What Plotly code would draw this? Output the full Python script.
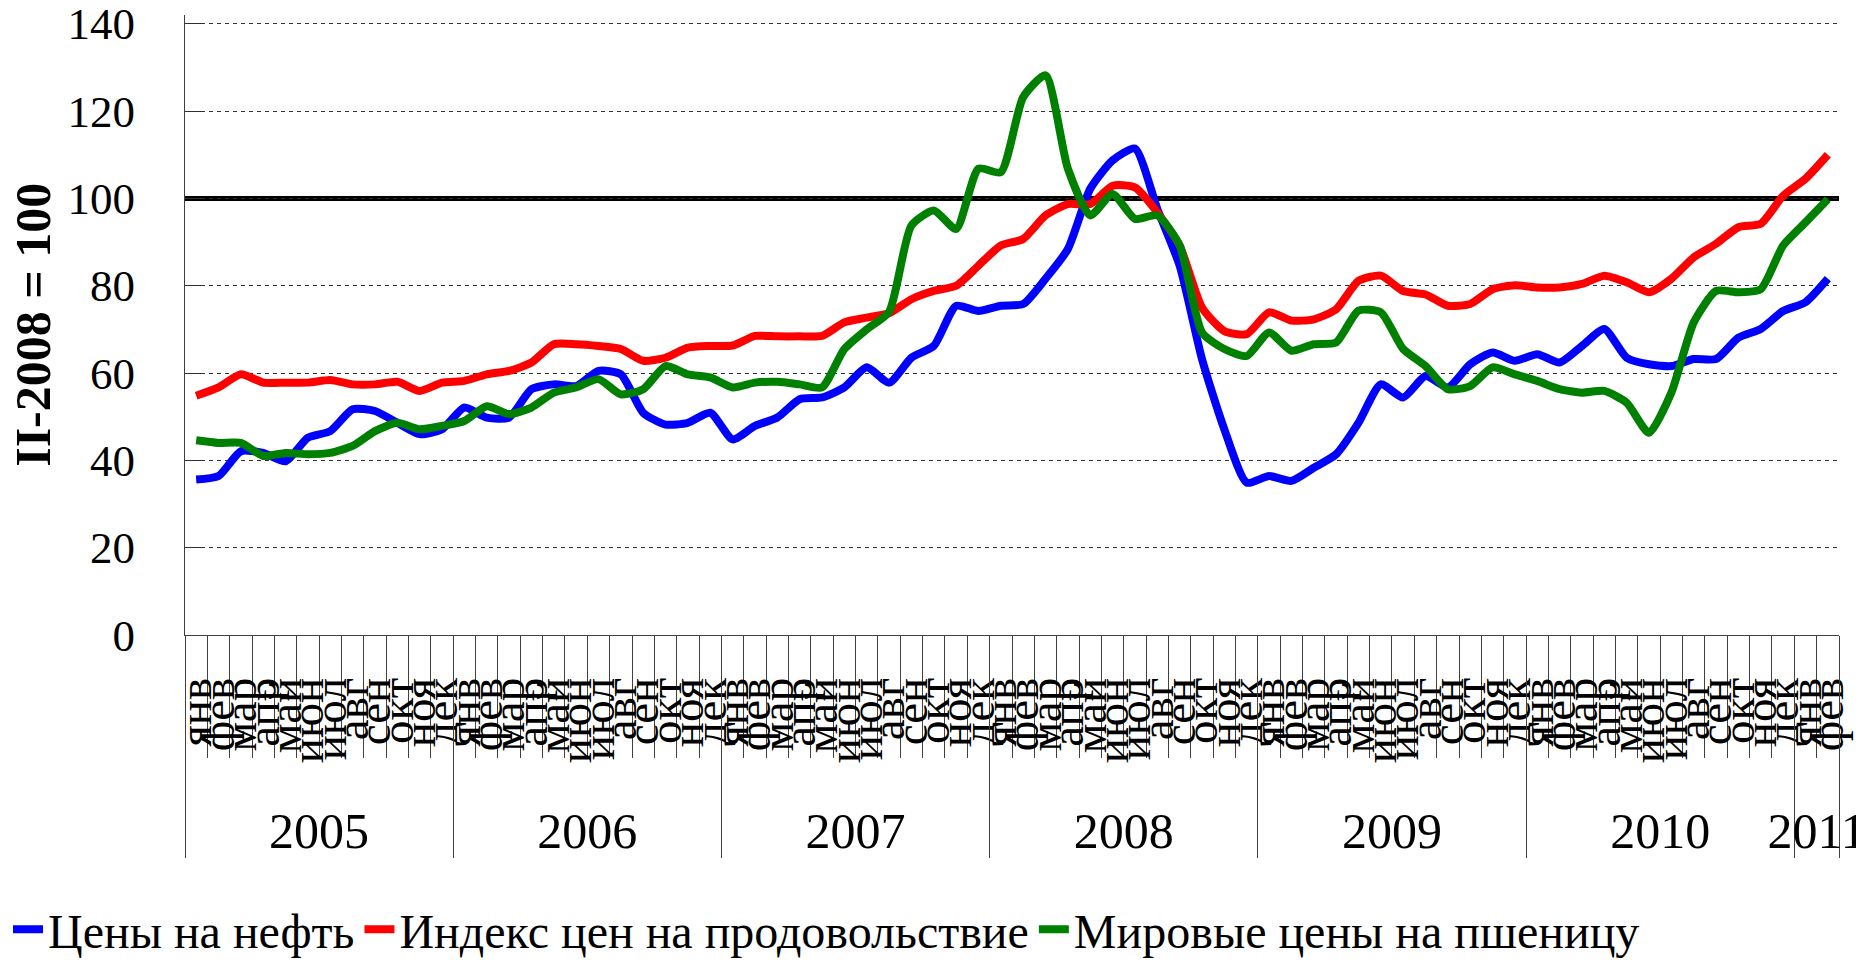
import plotly.graph_objects as go

FONT = "Liberation Serif, Times New Roman, serif"

months = ["янв", "фев", "мар", "апр", "май", "июн", "июл", "авг", "сен", "окт", "ноя", "дек"]
years = ["2005", "2006", "2007", "2008", "2009", "2010", "2011"]
months_per_year = [12, 12, 12, 12, 12, 12, 2]

# II-2008 = 100 (янв 2005 .. фев 2011)
oil = [
    35.6, 36.4, 42.1, 41.7, 39.8, 45.2, 46.7, 51.7, 51.3, 48.6, 46.0, 47.1,
    52.1, 49.8, 49.8, 56.3, 57.4, 57.0, 60.5, 59.7, 50.9, 48.2, 48.6, 50.9,
    44.8, 47.9, 49.8, 54.0, 54.4, 56.7, 61.3, 57.8, 63.5, 66.2, 75.4, 74.2,
    75.4, 75.8, 81.6, 88.4, 102.2, 108.7, 111.4, 97.6, 84.6, 63.2, 47.1, 34.9,
    36.4, 35.3, 38.3, 41.4, 48.6, 57.4, 54.4, 59.3, 56.7, 62.0, 64.7, 62.8,
    64.3, 62.4, 66.2, 70.1, 63.5, 62.0, 61.6, 63.2, 63.2, 68.1, 70.1, 74.2,
    76.2, 81.6,
]
food = [
    54.8, 56.7, 59.7, 57.8, 57.8, 57.8, 58.4, 57.4, 57.4, 58.0, 55.9, 57.8,
    58.2, 59.7, 60.5, 62.4, 66.6, 66.6, 66.2, 65.5, 62.8, 63.5, 65.8, 66.2,
    66.3, 68.5, 68.4, 68.4, 68.5, 71.6, 72.7, 73.7, 76.9, 78.8, 80.0, 84.6,
    89.2, 90.7, 96.1, 98.7, 98.7, 102.9, 102.5, 96.8, 89.2, 75.0, 69.6, 68.9,
    73.9, 72.0, 72.3, 74.6, 81.1, 82.3, 78.8, 78.0, 75.4, 75.8, 79.2, 80.1,
    79.6, 79.6, 80.4, 82.3, 80.8, 78.5, 81.6, 86.5, 89.6, 93.4, 94.2, 100.6,
    104.5, 110.0,
]
wheat = [
    44.6, 44.0, 44.0, 41.0, 41.7, 41.4, 41.7, 43.3, 46.7, 48.6, 47.1, 47.9,
    49.0, 52.4, 50.6, 52.1, 55.5, 56.7, 58.6, 55.1, 56.3, 61.6, 59.7, 59.0,
    56.7, 57.8, 58.0, 57.4, 56.7, 65.5, 70.0, 74.0, 93.8, 97.2, 93.0, 106.8,
    106.0, 123.2, 128.2, 106.8, 96.1, 101.0, 95.3, 96.1, 89.2, 69.3, 65.5, 63.9,
    69.3, 65.1, 66.6, 67.0, 74.3, 73.9, 65.5, 61.6, 56.3, 57.0, 61.3, 59.7,
    58.2, 56.3, 55.5, 55.9, 53.2, 46.3, 55.5, 71.6, 78.8, 78.5, 79.2, 89.2,
    94.5, 99.8,
]

series = [
    ("Цены на нефть", oil, "#0000FF"),
    ("Индекс цен на продовольствие", food, "#FF0000"),
    ("Мировые цены на пшеницу", wheat, "#008000"),
]

month_labels = [m for n in months_per_year for m in months[:n]]
pos = list(range(len(month_labels)))
month_bounds = [p - 0.5 for p in pos] + [pos[-1] + 0.5]

year_bounds = [-0.5]
for n in months_per_year:
    year_bounds.append(year_bounds[-1] + n)
year_mid = [(a + b) / 2 for a, b in zip(year_bounds[:-1], year_bounds[1:])]

x_range = [month_bounds[0], month_bounds[-1]]

fig = go.Figure()
for name, values, color in series:
    fig.add_trace(go.Scatter(
        x=pos, y=values, name=name, mode="lines",
        line=dict(color=color, width=8, shape="spline", smoothing=0.6),
    ))

# empty trace so the year axis gets drawn
fig.add_trace(go.Scatter(x=year_mid, y=[None] * len(year_mid), xaxis="x2",
                         showlegend=False, hoverinfo="skip"))

fig.add_hline(y=100, line=dict(color="black", width=5), layer="below")

# the page body adds an 8px offset, so the margins are trimmed by that much;
# the y range runs a bit past 140 so plotly keeps the top gridline
fig.update_layout(
    width=1864, height=965,
    margin=dict(l=177, r=33, t=7, b=338),
    paper_bgcolor="white", plot_bgcolor="white",
    font=dict(family=FONT, size=45, color="black"),
    xaxis=dict(
        range=x_range, tickmode="array", tickvals=pos, ticktext=month_labels,
        tickangle=-90, ticks="", ticklabelstandoff=23,
        tickfont=dict(size=47),
        showgrid=False, zeroline=False,
        showline=True, linecolor="#404040", linewidth=1,
        minor=dict(tickmode="array", tickvals=month_bounds, ticks="outside",
                   ticklen=122, tickwidth=1, tickcolor="#404040", showgrid=False),
        automargin=False, ticklabeloverflow="allow",
    ),
    xaxis2=dict(
        overlaying="x", anchor="y", side="bottom",
        range=x_range, tickmode="array", tickvals=year_mid, ticktext=years,
        ticks="", ticklabelstandoff=162, tickangle=0,
        tickfont=dict(size=50),
        showgrid=False, zeroline=False, showline=False,
        minor=dict(tickmode="array", tickvals=year_bounds, ticks="outside",
                   ticklen=222, tickwidth=1, tickcolor="#404040", showgrid=False),
        automargin=False, ticklabeloverflow="allow",
    ),
    yaxis=dict(
        range=[0, 142], tickmode="array", tickvals=list(range(0, 141, 20)),
        ticks="inside", ticklen=18, tickcolor="#303030", ticklabelstandoff=40,
        showgrid=True, gridcolor="#303030", gridwidth=1, griddash="4px,4px",
        zeroline=False, showline=True, linecolor="#404040", linewidth=1,
        automargin=False, ticklabeloverflow="allow",
    ),
    legend=dict(
        orientation="h", xref="container", yref="container",
        x=0.0, xanchor="left", y=0.045, yanchor="middle",
        font=dict(size=48), itemwidth=30, tracegroupgap=0,
    ),
    annotations=[dict(
        text="II-2008 = 100", textangle=-90, showarrow=False,
        xref="paper", yref="paper", x=-0.092, y=0.5,
        xanchor="center", yanchor="middle",
        font=dict(family=FONT, size=50, weight="bold"),
    )],
)

fig.write_html("out.html")
